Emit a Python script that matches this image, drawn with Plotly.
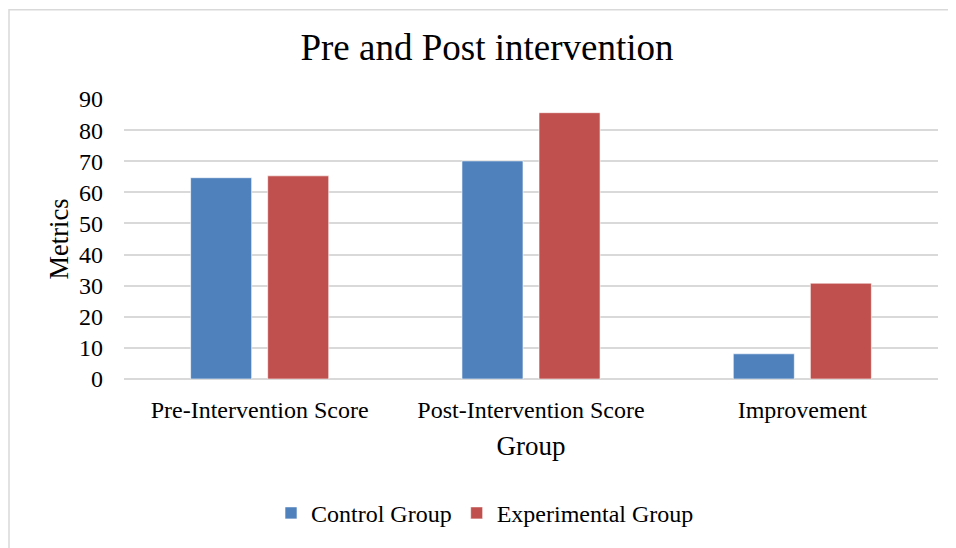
import plotly.graph_objects as go

categories = ["Pre-Intervention Score", "Post-Intervention Score", "Improvement"]
control = [64.7, 70.1, 8.1]
experimental = [65.3, 85.6, 30.8]
series_names = ["Control Group", "Experimental Group"]
colors = ["#4F81BD", "#C0504D"]

FONT = "Liberation Serif, Times New Roman, serif"

fig = go.Figure()
for name, vals, c in zip(series_names, [control, experimental], colors):
    fig.add_trace(go.Bar(
        x=categories, y=vals, name=name,
        marker=dict(color=c, line=dict(color="rgba(255,255,255,0.6)", width=1)),
    ))

# page has an 8px body margin; the figure occupies page x,y from 8
OFF = 8
W, H = 948, 540
L, R, T, B = 124 - OFF, 18, 99 - OFF, 540 - (381.5 - OFF)
pw, ph = W - L - R, H - T - B

def px2x(px):
    return (px - OFF - L) / pw

def py2y(py):
    return (H - B - (py - OFF)) / ph

fig.update_layout(
    width=W, height=H,
    margin=dict(l=L, r=R, t=T, b=B),
    paper_bgcolor="white", plot_bgcolor="white",
    font=dict(family=FONT, color="#000000", size=24),
    barmode="group", bargap=0.432, bargroupgap=0.208,
    title=dict(text="Pre and Post intervention", x=(487 - OFF) / W, xanchor="center",
               y=1 - (47 - OFF) / H, yanchor="middle", font=dict(size=37, family=FONT)),
    xaxis=dict(
        title=dict(text="Group", font=dict(size=27, family=FONT), standoff=14),
        tickfont=dict(size=24, family=FONT),
        showline=False, showgrid=False, ticks="", ticklabelstandoff=14,
    ),
    yaxis=dict(
        title=dict(text="Metrics", font=dict(size=26.5, family=FONT), standoff=2),
        range=[0, 90], dtick=10, tick0=0,
        tickfont=dict(size=24, family=FONT),
        showgrid=True, gridcolor="#D9D9D9", gridwidth=1.5,
        zeroline=True, zerolinecolor="#D9D9D9", zerolinewidth=1.5,
        showline=False, ticks="", ticklabelstandoff=20,
    ),
    legend=dict(orientation="h", x=px2x(485), xanchor="center",
                y=py2y(517), yanchor="middle",
                font=dict(size=24, family=FONT), itemwidth=30,
                traceorder="normal"),
    shapes=[dict(type="rect", xref="paper", yref="paper",
                 x0=px2x(OFF + 1), x1=px2x(W + 40), y0=py2y(H + 40), y1=py2y(OFF + 1),
                 line=dict(color="#D9D9D9", width=1.5), layer="below")],
)

fig.write_html("out.html")
